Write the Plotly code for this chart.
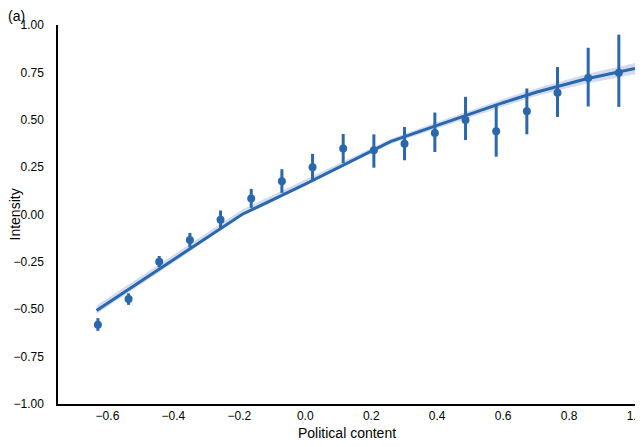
import plotly.graph_objects as go

# binned means with error bars
bin_x = [-0.629, -0.536, -0.443, -0.350, -0.257, -0.164, -0.071, 0.022, 0.115,
         0.208, 0.301, 0.393, 0.486, 0.579, 0.672, 0.765, 0.858, 0.951]
bin_y = [-0.582, -0.446, -0.249, -0.134, -0.028, 0.085, 0.176, 0.250, 0.348,
         0.339, 0.374, 0.430, 0.499, 0.439, 0.545, 0.642, 0.720, 0.748]
err_hi = [0.035, 0.030, 0.030, 0.037, 0.049, 0.050, 0.063, 0.070, 0.077,
          0.084, 0.088, 0.108, 0.122, 0.143, 0.120, 0.136, 0.160, 0.201]
err_lo = [0.032, 0.031, 0.030, 0.040, 0.049, 0.050, 0.062, 0.071, 0.077,
          0.092, 0.088, 0.100, 0.106, 0.134, 0.122, 0.127, 0.150, 0.180]

# fitted curve with confidence band
fit_x = [-0.633, -0.4, -0.192, 0.0, 0.2, 0.258, 0.4, 0.6, 0.7, 0.85, 1.0]
fit_y = [-0.506, -0.24, 0.0, 0.16, 0.335, 0.385, 0.47, 0.59, 0.645, 0.715, 0.771]
band_lo = [-0.525, -0.255, -0.005, 0.155, 0.325, 0.372, 0.452, 0.570, 0.625, 0.690, 0.740]
band_hi = [-0.480, -0.215, 0.025, 0.185, 0.352, 0.398, 0.488, 0.610, 0.665, 0.740, 0.800]

x_ticks = [-0.6, -0.4, -0.2, 0.0, 0.2, 0.4, 0.6, 0.8, 1.0]
x_tick_text = ["\u22120.6", "\u22120.4", "\u22120.2", "0.0", "0.2", "0.4", "0.6", "0.8", "1.0"]
y_ticks = [-1.0, -0.75, -0.5, -0.25, 0.0, 0.25, 0.5, 0.75, 1.0]
y_tick_text = ["\u22121.00", "\u22120.75", "\u22120.50", "\u22120.25", "0.00", "0.25", "0.50", "0.75", "1.00"]

BLUE = "#2a68ae"
BAND = "rgba(190,200,230,0.65)"

fig = go.Figure()
fig.add_trace(go.Scatter(x=fit_x + fit_x[::-1], y=band_hi + band_lo[::-1],
                         fill="toself", fillcolor=BAND, line=dict(width=0),
                         mode="lines", hoverinfo="skip", showlegend=False))
fig.add_trace(go.Scatter(x=fit_x, y=fit_y, mode="lines",
                         line=dict(color=BLUE, width=3), showlegend=False))
fig.add_trace(go.Scatter(
    x=bin_x, y=bin_y, mode="markers",
    marker=dict(color=BLUE, size=8),
    error_y=dict(type="data", symmetric=False, array=err_hi, arrayminus=err_lo,
                 color=BLUE, thickness=3, width=0),
    showlegend=False))

font_family = "Liberation Sans, Arial, sans-serif"
# the page body adds an 8px offset; figure size and margins compensate for it
fig.update_layout(
    width=635, height=439,
    margin=dict(l=50, r=8, t=17, b=43),
    paper_bgcolor="white", plot_bgcolor="white",
    font=dict(family=font_family, size=12, color="black"),
    xaxis=dict(range=[-0.75, 1.0], tickvals=x_ticks, ticktext=x_tick_text,
               showgrid=False, zeroline=False, showline=True, linecolor="black", linewidth=1.5,
               ticks="", tickfont=dict(size=12),
               automargin=False, ticklabeloverflow="allow"),
    yaxis=dict(range=[-1.0, 1.0], tickvals=y_ticks, ticktext=y_tick_text,
               showgrid=False, zeroline=False, showline=True, linecolor="black", linewidth=1.5,
               ticks="outside", ticklen=10, tickcolor="rgba(0,0,0,0)", tickfont=dict(size=12),
               automargin=False, ticklabeloverflow="allow"),
    annotations=[
        dict(text="(a)", x=0, y=1, xref="paper", yref="paper",
             xanchor="left", yanchor="top", showarrow=False,
             font=dict(size=14), xshift=-52, yshift=19),
        dict(text="Political content", x=0.5, y=0, xref="paper", yref="paper",
             xanchor="center", yanchor="middle", showarrow=False,
             font=dict(size=14), yshift=-29),
        dict(text="Intensity", x=0, y=0.5, xref="paper", yref="paper",
             xanchor="center", yanchor="middle", textangle=-90, showarrow=False,
             font=dict(size=14), xshift=-44),
    ],
)

fig.write_html("out.html")
